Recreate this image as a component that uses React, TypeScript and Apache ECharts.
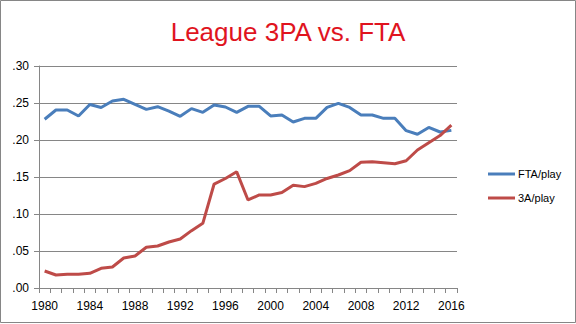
import React, { useEffect, useRef } from "react";
import * as echarts from "echarts";

const years: string[] = [];
for (let y = 1980; y <= 2016; y++) years.push(String(y));

const ftaPerPlay = [
  0.228, 0.2405, 0.2405, 0.2324, 0.248, 0.244, 0.2527, 0.255, 0.248, 0.2414,
  0.245, 0.239, 0.232, 0.2424, 0.2374, 0.2473, 0.2446, 0.2374, 0.2455, 0.2455,
  0.2325, 0.2338, 0.2243, 0.2293, 0.2293, 0.244, 0.2495, 0.244, 0.2338, 0.2338,
  0.2293, 0.2293, 0.2126, 0.2077, 0.217, 0.2108, 0.213,
];

const threeAPerPlay = [
  0.023, 0.0176, 0.0185, 0.0185, 0.0198, 0.0266, 0.0284, 0.0405, 0.0432, 0.055,
  0.0568, 0.0622, 0.0662, 0.0775, 0.0874, 0.1405, 0.148, 0.157, 0.119, 0.1257,
  0.1257, 0.129, 0.139, 0.137, 0.1414, 0.148, 0.1527, 0.1586, 0.17, 0.1707,
  0.1694, 0.168, 0.172, 0.1865, 0.1964, 0.206, 0.22,
];

const FONT = "'Liberation Sans', Arial, sans-serif";

export default function App() {
  const ref = useRef<HTMLDivElement>(null);
  useEffect(() => {
    if (!ref.current) return;
    const chart = echarts.init(ref.current, undefined, { renderer: "svg" });
    chart.setOption({
      animation: false,
      backgroundColor: "#ffffff",
      title: {
        text: "League 3PA vs. FTA",
        left: "center",
        top: 14,
        textStyle: { color: "#e0141e", fontSize: 26, fontWeight: "normal", fontFamily: FONT },
      },
      legend: {
        orient: "vertical",
        left: 483,
        top: 162,
        itemWidth: 27,
        itemHeight: 3,
        itemGap: 10,
        icon: "rect",
        textStyle: { fontSize: 11, color: "#000", fontFamily: FONT, lineHeight: 14, padding: [0, 0, 0, -2] },
        data: ["FTA/play", "3A/play"],
      },
      grid: { left: 39, right: 119, top: 66, bottom: 36, containLabel: false },
      xAxis: {
        type: "category",
        data: years,
        boundaryGap: true,
        axisLine: { lineStyle: { color: "#868686", width: 1 } },
        axisTick: { show: true, interval: 0, length: 5, lineStyle: { color: "#868686" } },
        axisLabel: { interval: 3, color: "#000", fontSize: 12, fontFamily: FONT, margin: 12 },
        splitLine: { show: false },
      },
      yAxis: {
        type: "value",
        min: 0,
        max: 0.3,
        interval: 0.05,
        axisLine: { show: true, lineStyle: { color: "#868686", width: 1 } },
        axisTick: { show: true, length: 5, lineStyle: { color: "#868686" } },
        axisLabel: {
          color: "#000",
          fontSize: 12,
          fontFamily: FONT,
          margin: 10,
          formatter: (v: number) => v.toFixed(2).replace(/^0/, ""),
        },
        splitLine: { lineStyle: { color: "#868686", width: 1 } },
      },
      series: [
        {
          name: "FTA/play",
          type: "line",
          data: ftaPerPlay,
          showSymbol: false,
          symbol: "none",
          lineStyle: { color: "#4a7ebb", width: 3 },
          itemStyle: { color: "#4a7ebb" },
        },
        {
          name: "3A/play",
          type: "line",
          data: threeAPerPlay,
          showSymbol: false,
          symbol: "none",
          lineStyle: { color: "#be4b48", width: 3 },
          itemStyle: { color: "#be4b48" },
        },
      ],
      graphic: [
        {
          type: "rect",
          shape: { x: 0.5, y: 0.5, width: 575, height: 322 },
          style: { fill: "none", stroke: "#868686", lineWidth: 1 },
          silent: true,
          z: 100,
        },
      ],
    });
    return () => chart.dispose();
  }, []);
  return <div ref={ref} style={{ width: 576, height: 324, position: "fixed", left: 0, top: 0 }} />;
}
